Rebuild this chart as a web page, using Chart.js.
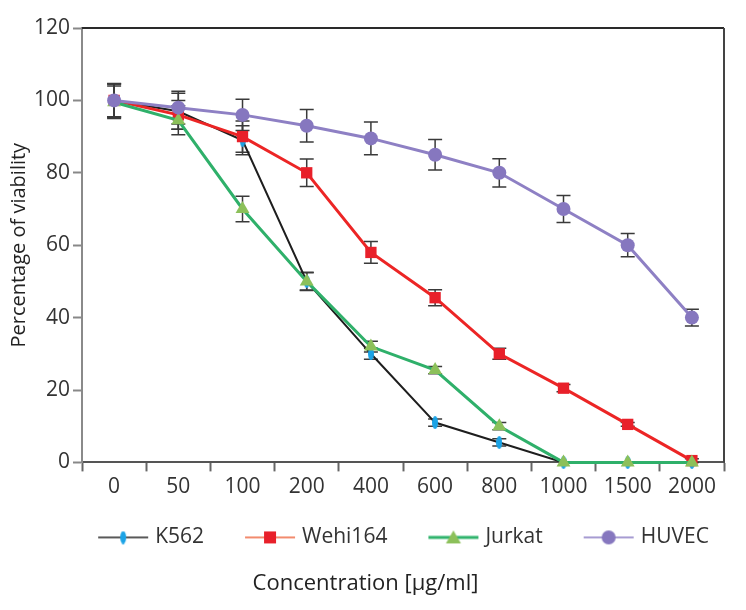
<!DOCTYPE html>
<html>
<head>
<meta charset="utf-8">
<script src="https://cdn.jsdelivr.net/npm/chart.js@4.4.1/dist/chart.umd.min.js"></script>
<style>
  html, body { margin: 0; background: #fff; }
  #wrap { width: 746px; height: 610px; }
</style>
</head>
<body>
<div id="wrap"><canvas id="viabilityChart"></canvas></div>
<script>
const concentrations = ["0", "50", "100", "200", "400", "600", "800", "1000", "1500", "2000"];

const k562 = [100, 97, 89, 50, 30, 11, 5.5, 0, 0, 0];
const k562Err = [4.5, 5, 4, 2.5, 1.5, 1, 1, 0, 0, 0];

const wehi164 = [100, 96, 90, 80, 58, 45.5, 30, 20.5, 10.5, 0.5];
const wehi164Err = [4.5, 4, 4.3, 3.8, 3, 2.2, 1.5, 1, 0.5, 0.5];

const jurkat = [99.5, 94.5, 70, 50, 32, 25.5, 10, 0, 0, 0];
const jurkatErr = [4.5, 4, 3.5, 2.4, 1.5, 1, 1, 0, 0, 0];

const huvec = [100, 98, 96, 93, 89.5, 85, 80, 70, 60, 40];
const huvecErr = [4.7, 4.5, 4.3, 4.5, 4.5, 4.2, 3.9, 3.7, 3.2, 2.3];

const yTicks = [0, 20, 40, 60, 80, 100, 120];

const FONT = "'Open Sans', 'Noto Sans', sans-serif";

// little canvases used as marker / legend swatches
function makeMarker(color, w, h) {
  const c = document.createElement("canvas");
  c.width = w; c.height = h;
  const g = c.getContext("2d");
  g.fillStyle = color;
  g.beginPath();
  g.ellipse(w / 2, h / 2, w / 2, h / 2, 0, 0, Math.PI * 2);
  g.fill();
  return c;
}

function makeSwatch(lineColor, lineWidth, drawMark) {
  const c = document.createElement("canvas");
  c.width = 52; c.height = 18;
  const g = c.getContext("2d");
  g.strokeStyle = lineColor;
  g.lineWidth = lineWidth;
  g.beginPath();
  g.moveTo(1, 9); g.lineTo(51, 9);
  g.stroke();
  drawMark(g, 26, 9);
  return c;
}

const k562Marker = makeMarker("#1ba3e6", 6, 13);

const swatches = [
  makeSwatch("#222", 1.6, (g, x, y) => { g.drawImage(k562Marker, x - 3, y - 6.5); }),
  makeSwatch("#f28b6e", 2.2, (g, x, y) => { g.fillStyle = "#e8202a"; g.fillRect(x - 6, y - 6, 12, 12); }),
  makeSwatch("#2fb36c", 3, (g, x, y) => {
    g.fillStyle = "#8cc05a"; g.beginPath();
    g.moveTo(x, y - 7); g.lineTo(x + 7.5, y + 6); g.lineTo(x - 7.5, y + 6); g.closePath(); g.fill();
  }),
  makeSwatch("#a79cd2", 2.2, (g, x, y) => {
    g.fillStyle = "#8677bf"; g.beginPath(); g.arc(x, y, 7, 0, Math.PI * 2); g.fill();
  })
];

const errorBars = {
  id: "errorBars",
  beforeDatasetsDraw(chart) {
    const ctx = chart.ctx;
    const xs = chart.scales.x, ys = chart.scales.y;
    ctx.save();
    ctx.strokeStyle = "#3a3a3a";
    ctx.lineWidth = 1.5;
    chart.data.datasets.forEach((ds) => {
      ds.data.forEach((v, i) => {
        const e = ds.errors[i];
        if (!e) return;
        const px = xs.getPixelForValue(i);
        const top = ys.getPixelForValue(v + e);
        const bot = ys.getPixelForValue(Math.max(v - e, 0));
        ctx.beginPath();
        ctx.moveTo(px, top); ctx.lineTo(px, bot);
        ctx.moveTo(px - 7, top); ctx.lineTo(px + 7, top);
        ctx.moveTo(px - 7, bot); ctx.lineTo(px + 7, bot);
        ctx.stroke();
      });
    });
    ctx.restore();
  }
};

const frame = {
  id: "frame",
  afterDraw(chart) {
    const {ctx, chartArea: a} = chart;
    ctx.save();
    ctx.lineWidth = 2;
    ctx.strokeStyle = "#2a2a2a";
    ctx.beginPath();
    ctx.moveTo(a.left, a.top); ctx.lineTo(a.right, a.top);
    ctx.stroke();
    ctx.strokeStyle = "#444";
    ctx.beginPath();
    ctx.moveTo(a.right, a.top); ctx.lineTo(a.right, a.bottom);
    ctx.stroke();
    ctx.restore();
  }
};

const legendRow = {
  id: "legendRow",
  afterDraw(chart) {
    const {ctx, chartArea: a} = chart;
    ctx.save();
    ctx.font = "21px " + FONT;
    ctx.fillStyle = "#333";
    ctx.textBaseline = "middle";
    const gap = 40;
    const items = chart.data.datasets.map((ds, i) => ({
      label: ds.label,
      swatch: swatches[i],
      w: 52 + 6 + ctx.measureText(ds.label).width
    }));
    const total = items.reduce((s, it) => s + it.w, 0) + gap * (items.length - 1);
    let x = (a.left + a.right) / 2 - total / 2;
    const y = a.bottom + 75;
    items.forEach((it) => {
      ctx.drawImage(it.swatch, x, y - 9);
      ctx.fillText(it.label, x + 58, y);
      x += it.w + gap;
    });
    ctx.restore();
  }
};

new Chart(document.getElementById("viabilityChart"), {
  type: "line",
  data: {
    labels: concentrations,
    datasets: [
      {
        label: "K562",
        data: k562,
        errors: k562Err,
        borderColor: "#1e1e1e",
        borderWidth: 2,
        pointStyle: k562Marker,
        order: 3,
        clip: false
      },
      {
        label: "Wehi164",
        data: wehi164,
        errors: wehi164Err,
        borderColor: "#ec2525",
        borderWidth: 3,
        pointStyle: "rect",
        pointRadius: 8,
        pointBackgroundColor: "#e8202a",
        pointBorderWidth: 0,
        order: 2,
        clip: false
      },
      {
        label: "Jurkat",
        data: jurkat,
        errors: jurkatErr,
        borderColor: "#2fb06a",
        borderWidth: 3,
        pointStyle: "triangle",
        pointRadius: 8,
        pointBackgroundColor: "#8cc05a",
        pointBorderWidth: 0,
        order: 1,
        clip: false
      },
      {
        label: "HUVEC",
        data: huvec,
        errors: huvecErr,
        borderColor: "#8e80c4",
        borderWidth: 3,
        pointStyle: "circle",
        pointRadius: 7,
        pointBackgroundColor: "#8677bf",
        pointBorderWidth: 0,
        order: 0,
        clip: false
      }
    ]
  },
  options: {
    responsive: true,
    maintainAspectRatio: false,
    animation: false,
    layout: {
      padding: { top: 28, right: 22, left: 7, bottom: 13 }
    },
    plugins: {
      legend: { display: false },
      tooltip: { enabled: false },
      title: {
        display: true,
        position: "bottom",
        text: "Concentration [\u00b5g/ml]",
        color: "#222",
        font: { family: FONT, size: 22, weight: "normal" },
        padding: { top: 68, bottom: 0 }
      }
    },
    scales: {
      x: {
        offset: true,
        grid: {
          offset: true,
          drawOnChartArea: false,
          tickLength: 9,
          tickWidth: 2,
          tickColor: "#666",
          color: "#666"
        },
        border: { color: "#555", width: 2 },
        ticks: {
          color: "#333",
          padding: 3,
          maxRotation: 0,
          font: { family: FONT, size: 21 }
        }
      },
      y: {
        min: 0,
        max: 120,
        afterBuildTicks(axis) {
          axis.ticks = yTicks.map((v) => ({ value: v }));
        },
        grid: {
          drawOnChartArea: false,
          tickLength: 9,
          tickWidth: 2,
          tickColor: "#888"
        },
        border: { color: "#8a8a8a", width: 2 },
        ticks: {
          color: "#333",
          padding: 3,
          font: { family: FONT, size: 21 }
        },
        title: {
          display: true,
          text: "Percentage of viability",
          color: "#222",
          font: { family: FONT, size: 20, weight: "normal" },
          padding: { top: 0, bottom: 0 }
        }
      }
    }
  },
  plugins: [errorBars, frame, legendRow]
});
</script>
</body>
</html>
